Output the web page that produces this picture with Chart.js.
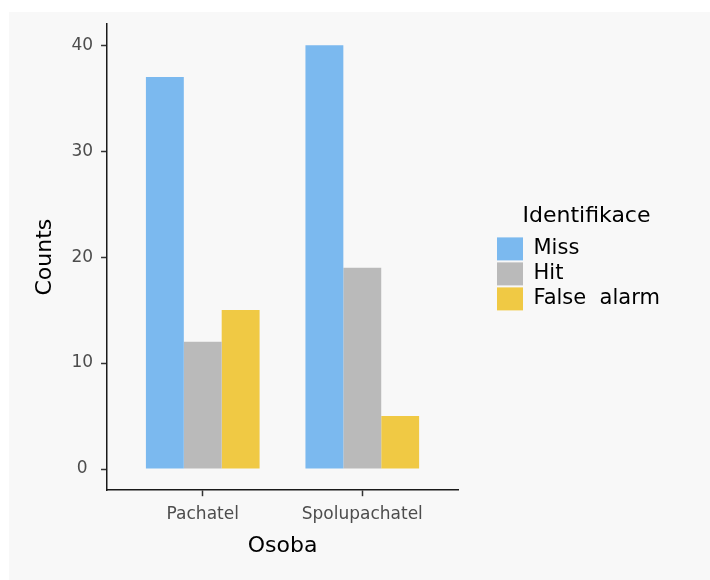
<!DOCTYPE html>
<html>
<head>
<meta charset="utf-8">
<script src="https://cdn.jsdelivr.net/npm/chart.js@4.4.1/dist/chart.umd.min.js"></script>
<style>
  html, body { margin: 0; padding: 0; background: #ffffff; }
  #panel { position: absolute; left: 9px; top: 12px; width: 701px; height: 568px; background: #f8f8f8; }
  canvas { display: block; }
</style>
</head>
<body>
<div id="panel"><canvas id="chart" width="701" height="568"></canvas></div>
<script>
// data
const categories = ["Pachatel", "Spolupachatel"];
const categoryPos = [1, 2];
const seriesNames = ["Miss", "Hit", "False  alarm"];
const missCounts = [37, 40];
const hitCounts = [12, 19];
const falseAlarmCounts = [15, 5];
const yTicks = [0, 10, 20, 30, 40];

const seriesColors = ["#7bb9ef", "#bababa", "#f0c944"];
const seriesValues = [missCounts, hitCounts, falseAlarmCounts];

Chart.defaults.font.family = "'DejaVu Sans', sans-serif";

// push legend away from the plot, like ggplot's legend spacing
const legendSpot = {
  id: "legendSpot",
  afterLayout(chart) {
    const lg = chart.legend;
    lg.left = chart.chartArea.right + 37;
    lg.width = 183;
    lg.right = lg.left + lg.width;
    lg.top = 193;
    lg.bottom = lg.top + lg.height;
  }
};

const datasets = seriesNames.map((name, i) => ({
  label: name,
  data: categoryPos.map((x, j) => ({ x: x, y: seriesValues[i][j] })),
  backgroundColor: seriesColors[i],
  borderWidth: 0
}));

new Chart(document.getElementById("chart"), {
  type: "bar",
  data: { datasets: datasets },
  plugins: [legendSpot],
  options: {
    responsive: false,
    animation: false,
    layout: { padding: { left: 23, right: 110, top: 12, bottom: 21 } },
    datasets: { bar: { categoryPercentage: 0.7125, barPercentage: 1.0 } },
    plugins: {
      tooltip: { enabled: false },
      legend: {
        position: "right",
        align: "start",
        title: {
          display: true,
          text: "Identifikace",
          color: "#000",
          position: "center",
          font: { size: 22 },
          padding: { top: 0, bottom: 4 }
        },
        labels: {
          color: "#000",
          font: { size: 21 },
          boxWidth: 26,
          boxHeight: 23,
          padding: 2
        }
      }
    },
    scales: {
      x: {
        type: "linear",
        offset: false,
        min: 0.4,
        max: 2.6,
        afterBuildTicks: s => { s.ticks = categoryPos.map(v => ({ value: v })); },
        grid: { display: true, offset: false, drawOnChartArea: false, drawTicks: true, tickLength: 6, color: "#333", tickWidth: 1.5 },
        border: { display: true, color: "#1a1a1a", width: 1.5 },
        ticks: {
          color: "#4d4d4d",
          font: { size: 17 },
          padding: 8,
          maxRotation: 0,
          callback: v => categories[categoryPos.indexOf(v)]
        },
        title: { display: true, text: "Osoba", color: "#000", font: { size: 22 }, padding: { top: 0, bottom: 0 } }
      },
      y: {
        min: -2,
        max: 42,
        afterBuildTicks: s => { s.ticks = yTicks.map(v => ({ value: v })); },
        // ticks sit well inside the axis, no extra room needed above
        afterFit: s => { s.paddingTop = 0; s.paddingBottom = 0; },
        grid: { display: true, drawOnChartArea: false, drawTicks: true, tickLength: 6, color: "#333", tickWidth: 1.5 },
        border: { display: true, color: "#1a1a1a", width: 1.5 },
        ticks: { color: "#4d4d4d", font: { size: 17 }, padding: 8, crossAlign: "center" },
        title: { display: true, text: "Counts", color: "#000", font: { size: 22 }, padding: { top: 0, bottom: 5 } }
      }
    }
  }
});
</script>
</body>
</html>
